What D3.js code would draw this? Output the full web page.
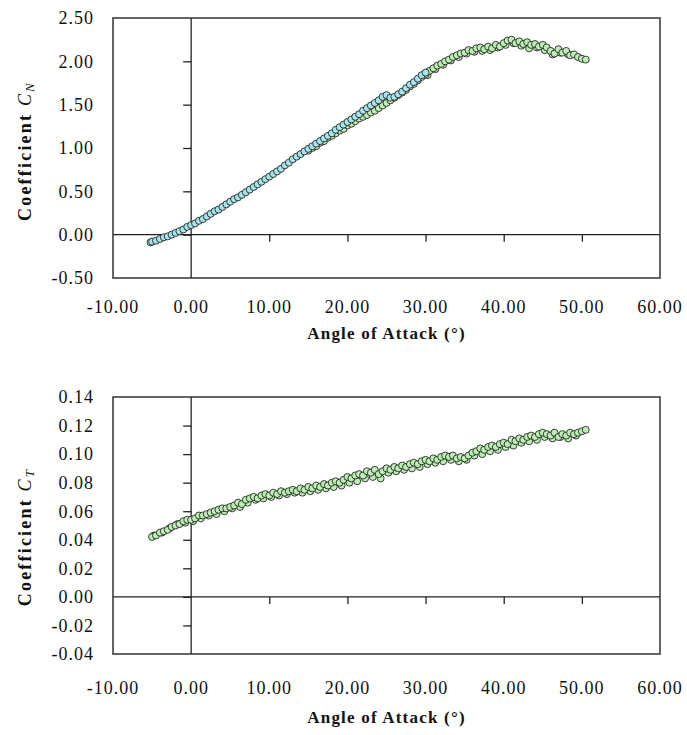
<!DOCTYPE html>
<html lang="en">
<head>
    <meta charset="UTF-8">
    <title>Coefficients vs Angle of Attack</title>
    <script src="https://d3js.org/d3.v7.min.js"></script>
    <style>
        body { margin: 0; background: #fff; }
        svg text { font-family: "Liberation Serif", "Times New Roman", serif; }
    </style>
</head>
<body>
<div id="chart"></div>
<script>
    // x ticks shared by both panels
    const alphaTicks = [-10, 0, 10, 20, 30, 40, 50, 60];
    const cnTicks = [-0.5, 0, 0.5, 1.0, 1.5, 2.0, 2.5];
    const ctTicks = [-0.04, -0.02, 0, 0.02, 0.04, 0.06, 0.08, 0.10, 0.12, 0.14];

    // top panel, blue run
    const cnBlueAlpha = [-5.2, -5.0, -4.5, -4.0, -3.5, -3.0, -2.5, -2.0, -1.5, -1.0, -0.5, 0.0, 0.5, 1.0, 1.5, 2.0, 2.5, 3.0, 3.5, 4.0, 4.5, 5.0, 5.5, 6.0, 6.5, 7.0, 7.5, 8.0, 8.5, 9.0, 9.5, 10.0, 10.5, 11.0, 11.5, 12.0, 12.5, 13.0, 13.5, 14.0, 14.5, 15.0, 15.5, 16.0, 16.5, 17.0, 17.5, 18.0, 18.5, 19.0, 19.5, 20.0, 20.5, 21.0, 21.5, 22.0, 22.5, 23.0, 23.5, 24.0, 24.5, 25.0, 25.5, 26.0, 26.5, 27.0, 27.5, 28.0, 28.5, 29.0, 29.5, 30.0];
    const cnBlue = [-0.09, -0.08, -0.07, -0.05, -0.03, -0.02, 0.00, 0.02, 0.04, 0.06, 0.09, 0.11, 0.13, 0.16, 0.18, 0.21, 0.24, 0.27, 0.29, 0.32, 0.35, 0.38, 0.41, 0.43, 0.46, 0.49, 0.52, 0.55, 0.58, 0.61, 0.64, 0.67, 0.70, 0.73, 0.76, 0.80, 0.83, 0.87, 0.90, 0.93, 0.96, 0.99, 1.02, 1.05, 1.08, 1.11, 1.14, 1.17, 1.21, 1.24, 1.27, 1.30, 1.33, 1.36, 1.39, 1.43, 1.46, 1.49, 1.52, 1.55, 1.59, 1.61, 1.58, 1.59, 1.62, 1.65, 1.69, 1.73, 1.76, 1.80, 1.84, 1.87];

    // top panel, green runs
    const cnGreenAlpha = [15.0, 15.5, 16.0, 16.5, 17.0, 17.5, 18.0, 18.5, 19.0, 19.5, 20.0, 20.5, 21.0, 21.5, 22.0, 22.5, 23.0, 23.5, 24.0, 24.5, 25.0, 25.5, 26.0, 26.5, 27.0, 27.5, 28.0, 28.5, 29.0, 29.5, 30.0, 30.5, 31.0, 31.5, 32.0, 32.5, 33.0, 33.5, 34.0, 34.5, 35.0, 35.5, 36.0, 36.5, 37.0, 37.5, 38.0, 38.5, 39.0, 39.5, 40.0, 40.5, 41.0, 41.5, 42.0, 42.5, 43.0, 43.5, 44.0, 44.5, 45.0, 45.5, 46.0, 46.5, 47.0, 47.5, 48.0, 48.5, 49.0, 49.5, 50.0, 50.5];
    const cnGreen = [0.97, 1.00, 1.02, 1.06, 1.08, 1.12, 1.14, 1.17, 1.20, 1.22, 1.26, 1.28, 1.31, 1.34, 1.36, 1.38, 1.41, 1.43, 1.46, 1.49, 1.52, 1.55, 1.58, 1.61, 1.64, 1.67, 1.71, 1.74, 1.78, 1.82, 1.85, 1.89, 1.92, 1.95, 1.97, 2.00, 2.02, 2.05, 2.07, 2.09, 2.10, 2.13, 2.12, 2.15, 2.16, 2.14, 2.17, 2.15, 2.19, 2.17, 2.21, 2.24, 2.25, 2.21, 2.23, 2.20, 2.22, 2.19, 2.20, 2.17, 2.19, 2.16, 2.12, 2.09, 2.14, 2.10, 2.12, 2.07, 2.08, 2.05, 2.03, 2.02];
    const cnGreen2Alpha = [30.25, 31.25, 32.25, 33.25, 34.25, 35.25, 36.25, 37.25, 38.25, 39.25, 40.25, 41.25, 42.25, 43.25, 44.25, 45.25, 46.25, 47.25, 48.25];
    const cnGreen2 = [1.84, 1.91, 1.96, 2.01, 2.05, 2.09, 2.11, 2.12, 2.13, 2.16, 2.19, 2.21, 2.18, 2.15, 2.16, 2.13, 2.08, 2.10, 2.08];

    // bottom panel
    const ctAlpha = [-5.0, -4.5, -4.0, -3.5, -3.0, -2.5, -2.0, -1.5, -1.0, -0.5, 0.0, 0.5, 1.0, 1.5, 2.0, 2.5, 3.0, 3.5, 4.0, 4.5, 5.0, 5.5, 6.0, 6.5, 7.0, 7.5, 8.0, 8.5, 9.0, 9.5, 10.0, 10.5, 11.0, 11.5, 12.0, 12.5, 13.0, 13.5, 14.0, 14.5, 15.0, 15.5, 16.0, 16.5, 17.0, 17.5, 18.0, 18.5, 19.0, 19.5, 20.0, 20.5, 21.0, 21.5, 22.0, 22.5, 23.0, 23.5, 24.0, 24.5, 25.0, 25.5, 26.0, 26.5, 27.0, 27.5, 28.0, 28.5, 29.0, 29.5, 30.0, 30.5, 31.0, 31.5, 32.0, 32.5, 33.0, 33.5, 34.0, 34.5, 35.0, 35.5, 36.0, 36.5, 37.0, 37.5, 38.0, 38.5, 39.0, 39.5, 40.0, 40.5, 41.0, 41.5, 42.0, 42.5, 43.0, 43.5, 44.0, 44.5, 45.0, 45.5, 46.0, 46.5, 47.0, 47.5, 48.0, 48.5, 49.0, 49.5, 50.0, 50.5];
    const ct = [0.042, 0.043, 0.045, 0.046, 0.047, 0.049, 0.050, 0.051, 0.053, 0.054, 0.054, 0.055, 0.057, 0.057, 0.058, 0.059, 0.060, 0.061, 0.062, 0.062, 0.063, 0.064, 0.066, 0.065, 0.068, 0.069, 0.070, 0.069, 0.071, 0.072, 0.071, 0.073, 0.072, 0.074, 0.073, 0.074, 0.075, 0.074, 0.076, 0.075, 0.077, 0.076, 0.078, 0.077, 0.079, 0.078, 0.080, 0.081, 0.080, 0.082, 0.084, 0.083, 0.085, 0.086, 0.085, 0.088, 0.087, 0.089, 0.086, 0.088, 0.090, 0.089, 0.091, 0.090, 0.092, 0.091, 0.093, 0.094, 0.093, 0.095, 0.096, 0.095, 0.097, 0.096, 0.098, 0.099, 0.098, 0.099, 0.097, 0.098, 0.097, 0.099, 0.101, 0.102, 0.104, 0.103, 0.105, 0.106, 0.105, 0.107, 0.108, 0.107, 0.110, 0.109, 0.111, 0.110, 0.112, 0.113, 0.112, 0.114, 0.115, 0.114, 0.113, 0.115, 0.112, 0.114, 0.113, 0.115, 0.114, 0.115, 0.116, 0.117];
    const ct2Alpha = [-4.75, -3.75, -2.75, -1.75, -0.75, 0.25, 1.25, 2.25, 3.25, 4.25, 5.25, 6.25, 7.25, 8.25, 9.25, 10.25, 11.25, 12.25, 13.25, 14.25, 15.25, 16.25, 17.25, 18.25, 19.25, 20.25, 21.25, 22.25, 23.25, 24.25, 25.25, 26.25, 27.25, 28.25, 29.25, 30.25, 31.25, 32.25, 33.25, 34.25, 35.25, 36.25, 37.25, 38.25, 39.25, 40.25, 41.25, 42.25, 43.25, 44.25, 45.25, 46.25, 47.25, 48.25, 49.25];
    const ct2 = [0.043, 0.045, 0.048, 0.051, 0.052, 0.053, 0.055, 0.057, 0.058, 0.060, 0.062, 0.063, 0.066, 0.068, 0.069, 0.070, 0.071, 0.072, 0.073, 0.073, 0.074, 0.075, 0.076, 0.077, 0.078, 0.080, 0.081, 0.083, 0.084, 0.083, 0.087, 0.088, 0.089, 0.090, 0.091, 0.093, 0.094, 0.095, 0.096, 0.095, 0.096, 0.099, 0.100, 0.102, 0.103, 0.105, 0.106, 0.108, 0.109, 0.110, 0.112, 0.111, 0.112, 0.111, 0.113];

    const blueFill = "#a9e4ea";
    const greenFill = "#bdeeb5";

    const width = 687, height = 735;
    const svg = d3.select("#chart").append("svg")
        .attr("width", width)
        .attr("height", height);

    const x = d3.scaleLinear().domain([-10, 60]).range([113, 660]);

    // plain hyphen for negatives, like the original
    const fmt2 = v => d3.format(".2f")(v).replace("\u2212", "-");

    function zip(xs, ys) {
        return xs.map((a, i) => ({ a: a, v: ys[i] }));
    }

    function panel(opts) {
        const y = d3.scaleLinear().domain(opts.domain).range([opts.bottom, opts.top]);
        const g = svg.append("g");

        // plot frame
        g.append("rect")
            .attr("x", x(-10)).attr("y", opts.top)
            .attr("width", x(60) - x(-10)).attr("height", opts.bottom - opts.top)
            .attr("fill", "none").attr("stroke", "#333").attr("stroke-width", 1.5);

        // axes crossing at zero
        const yAxis = d3.axisLeft(y).tickValues(opts.ticks.filter(t => t > opts.domain[0] && t < opts.domain[1]))
            .tickSize(8).tickFormat("");
        g.append("g").attr("transform", `translate(${x(0)},0)`).call(yAxis)
            .call(s => s.select(".domain").attr("d", `M0,${opts.top}V${opts.bottom}`));

        const xAxis = d3.axisBottom(x).tickValues([10, 20, 30, 40, 50]).tickSize(7).tickFormat("");
        g.append("g").attr("transform", `translate(0,${y(0)})`).call(xAxis)
            .call(s => s.select(".domain").attr("d", `M${x(-10)},0H${x(60)}`));
        g.selectAll(".domain, .tick line").attr("stroke", "#222").attr("stroke-width", 1.3);

        // tick labels
        g.selectAll(".ylab").data(opts.ticks).join("text")
            .attr("x", 94).attr("y", d => y(d)).attr("dy", "0.35em")
            .attr("text-anchor", "end").attr("font-size", 18).attr("letter-spacing", 1)
            .attr("fill", "#111")
            .text(fmt2);
        g.selectAll(".xlab").data(alphaTicks).join("text")
            .attr("x", d => x(d)).attr("y", opts.bottom + opts.labOff).attr("dy", "0.35em")
            .attr("text-anchor", "middle").attr("font-size", 18).attr("letter-spacing", 1)
            .attr("fill", "#111")
            .text(fmt2);

        // axis titles
        g.append("text")
            .attr("x", (x(-10) + x(60)) / 2).attr("y", opts.bottom + opts.titleOff).attr("dy", "0.35em")
            .attr("text-anchor", "middle").attr("font-size", 17).attr("font-weight", "bold")
            .attr("letter-spacing", 1.2).attr("fill", "#111")
            .text("Angle of Attack (°)");

        const yt = g.append("text")
            .attr("transform", `translate(25,${opts.titleY}) rotate(-90)`)
            .attr("dy", "0.35em").attr("text-anchor", "middle")
            .attr("font-size", 18).attr("font-weight", "bold").attr("letter-spacing", 2.2)
            .attr("fill", "#111");
        yt.append("tspan").text("Coefficient ");
        yt.append("tspan").attr("font-style", "italic").attr("font-weight", "normal").text("C");
        yt.append("tspan").attr("font-style", "italic").attr("font-weight", "normal")
            .attr("font-size", 13).attr("dy", 3).text(opts.sub);

        // markers
        opts.series.forEach(s => {
            g.append("g").selectAll("circle").data(s.data).join("circle")
                .attr("cx", d => x(d.a)).attr("cy", d => y(d.v)).attr("r", 3.5)
                .attr("fill", s.fill).attr("stroke", "#111").attr("stroke-width", 0.8);
        });
    }

    panel({
        top: 18, bottom: 278, domain: [-0.5, 2.5], ticks: cnTicks,
        labOff: 29, titleOff: 55, titleY: 151, sub: "N",
        series: [
            { data: zip(cnGreen2Alpha, cnGreen2), fill: greenFill },
            { data: zip(cnGreenAlpha, cnGreen), fill: greenFill },
            { data: zip(cnBlueAlpha, cnBlue), fill: blueFill }
        ]
    });

    panel({
        top: 397, bottom: 654, domain: [-0.04, 0.14], ticks: ctTicks,
        labOff: 34, titleOff: 63, titleY: 537, sub: "T",
        series: [
            { data: zip(ct2Alpha, ct2), fill: greenFill },
            { data: zip(ctAlpha, ct), fill: greenFill }
        ]
    });
</script>
</body>
</html>
